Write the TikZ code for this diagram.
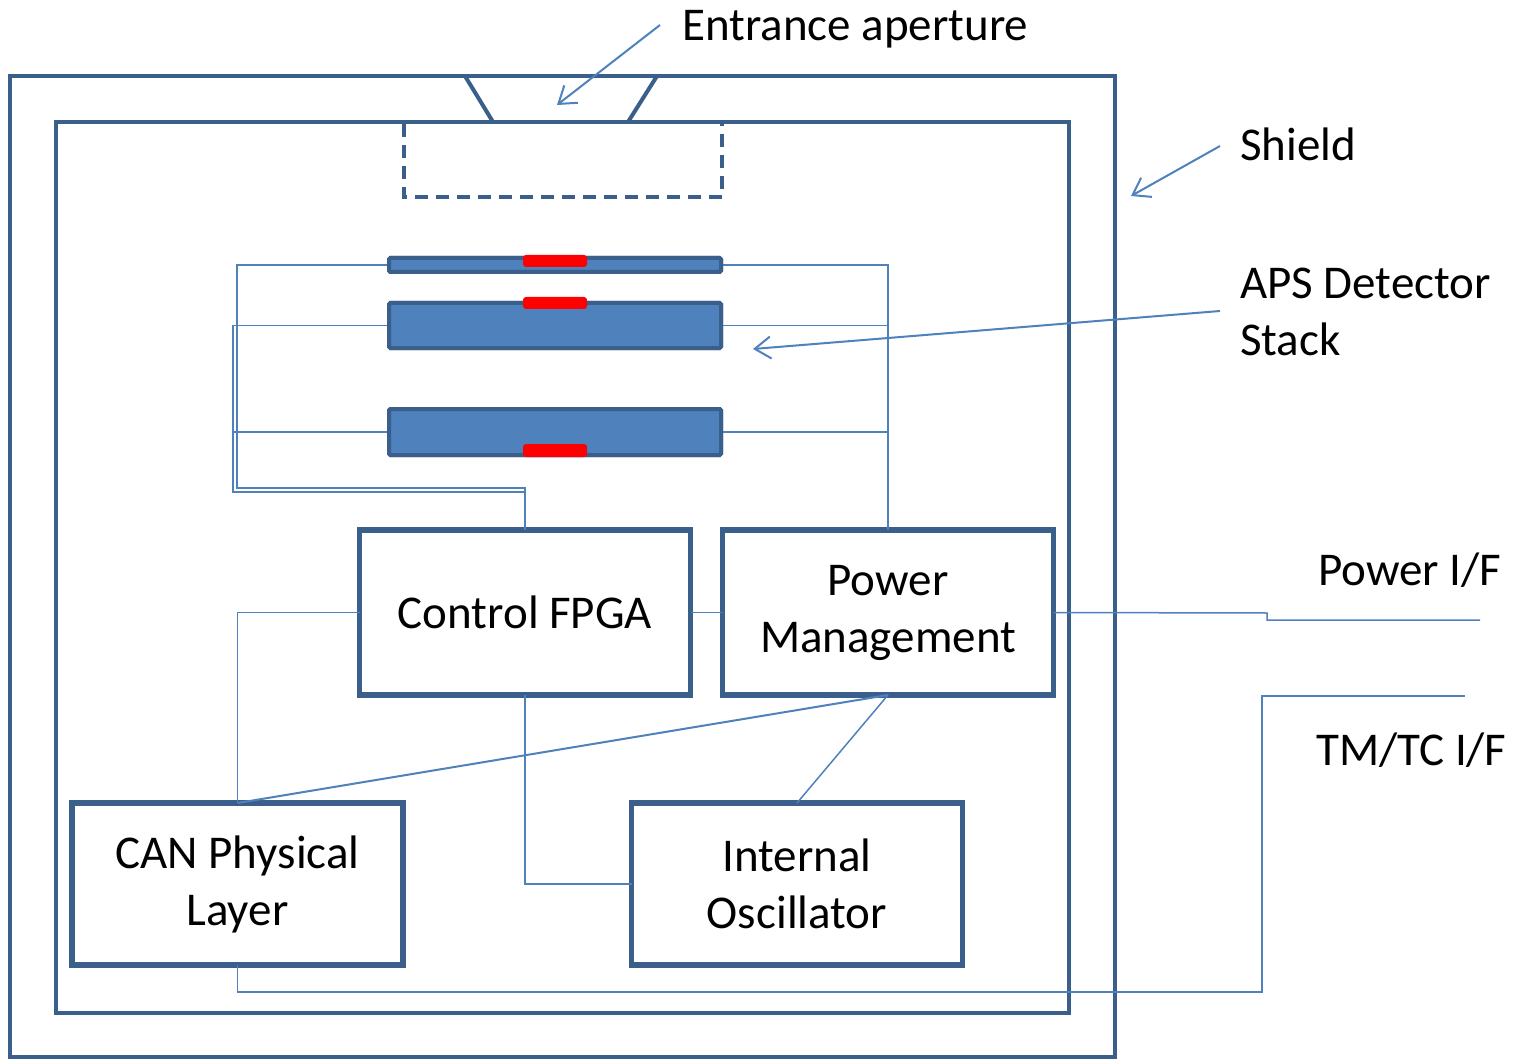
\documentclass[tikz,border=0pt]{standalone}
\usepackage{fontspec}
\setmainfont{Carlito}
\usetikzlibrary{arrows.meta}
\definecolor{dkblue}{HTML}{3A5F8B}
\definecolor{wireblue}{HTML}{4F81BD}
\definecolor{barfill}{HTML}{4F81BD}
\newcommand{\dgfont}{\fontsize{47}{57}\selectfont}
\begin{document}
\begin{tikzpicture}[x=1pt,y=-1pt,
  shieldline/.style={draw=dkblue,line width=4pt},
  blockbox/.style={rectangle,draw=dkblue,line width=5.5pt,fill=white,inner sep=0pt,outer sep=0pt,
    minimum width=331pt,align=center,font=\dgfont},
  detbar/.style={rectangle,draw=dkblue,fill=barfill,line width=4pt,inner sep=0pt,outer sep=0pt,
    minimum width=332pt,rounded corners=1.5pt},
  redpatch/.style={rectangle,fill=red,draw=none,inner sep=0pt,outer sep=0pt,minimum width=64pt,rounded corners=3pt},
  wire/.style={draw=wireblue,line width=1.5pt},
  pointer/.style={draw=wireblue,line width=2pt,-{Straight Barb[length=16pt,width=22pt,line width=2pt]}},
  lbl/.style={font=\dgfont,anchor=base west,inner sep=0pt,align=left}
]
\useasboundingbox (0,0) rectangle (1523,1059);
\fill[white] (0,0) rectangle (1523,1059);

% shield
\draw[shieldline] (10,76) rectangle (1115,1057);
\draw[shieldline] (56,122) rectangle (1069,1013);
\draw[shieldline] (465,76) -- (493,122);
\draw[shieldline] (657,76) -- (628,122);
\draw[draw=dkblue,line width=4pt,dash pattern=on 13pt off 8pt] (404,124) -- (404,197) -- (722,197) -- (722,124);

% blocks
\node[blockbox,minimum height=165pt] (fpga) at (525,612.5) {Control FPGA};
\node[blockbox,minimum height=165pt] (pm) at (888,612.5) {Power\\Management};
\node[blockbox,minimum height=162pt] (can) at (237.5,884) {CAN Physical\\Layer};
\node[blockbox,minimum height=162pt] (osc) at (797,884) {Internal\\Oscillator};

% detector stack
\node[detbar,minimum height=14pt] (bar1) at (555,265) {};
\node[detbar,minimum height=45pt] (bar2) at (555,325.5) {};
\node[detbar,minimum height=46pt] (bar3) at (555,432) {};

% junction coordinates
\coordinate (jA) at (237,488);
\coordinate (jB) at (233,492);
\coordinate (tmA) at (1262,992);
\coordinate (tmB) at (1465,696);
\coordinate (pwA) at (1267,613);
\coordinate (pwB) at (1480,620);

% wires
\draw[wire] (bar1.west) -| (jA) -| (fpga.north);
\draw[wire] (bar2.west) -| (jB) -| (fpga.north);
\draw[wire] (bar3.west) -- (bar3.west -| jB);
\draw[wire] (bar1.east) -| (pm.north);
\draw[wire] (bar2.east) -- (bar2.east -| pm.north);
\draw[wire] (bar3.east) -- (bar3.east -| pm.north);
\draw[wire] (fpga.east) -- (pm.west);
\draw[wire] (fpga.west) -| (can.north);
\draw[wire,line width=2pt] (pm.south) -- (can.north);
\draw[wire] (pm.south) -- (osc.north);
\draw[wire] (fpga.south) |- (osc.west);
\draw[wire] (can.south) |- (tmA) |- (tmB);
\draw[wire] (pm.east) -- (pwA) |- (pwB);

% redraw bars on top of wires
\node[detbar,minimum height=14pt] at (555,265) {};
\node[detbar,minimum height=45pt] at (555,325.5) {};
\node[detbar,minimum height=46pt] at (555,432) {};
\node[redpatch,minimum height=12pt] (red1) at (555,261) {};
\node[redpatch,minimum height=12pt] (red2) at (555,303) {};
\node[redpatch,minimum height=13pt] (red3) at (555,450.5) {};

% labels
\node[lbl] (entl) at (682,41) {Entrance aperture};
\node[lbl] (shl) at (1240,161) {Shield};
\node[lbl] (apsl) at (1240,355) {APS Detector\\Stack};
\node[lbl] (pwl) at (1318,585) {Power I/F};
\node[lbl] (tml) at (1316,765) {TM/TC I/F};

% pointers
\coordinate (entS) at (660,25);
\coordinate (entE) at (557,105);
\coordinate (shS) at (1220,146);
\coordinate (shE) at (1131,196);
\coordinate (apsS) at (1220,311);
\coordinate (apsE) at (753,349);
\draw[pointer] (entS) -- (entE);
\draw[pointer] (shS) -- (shE);
\draw[pointer] (apsS) -- (apsE);
\end{tikzpicture}
\end{document}
